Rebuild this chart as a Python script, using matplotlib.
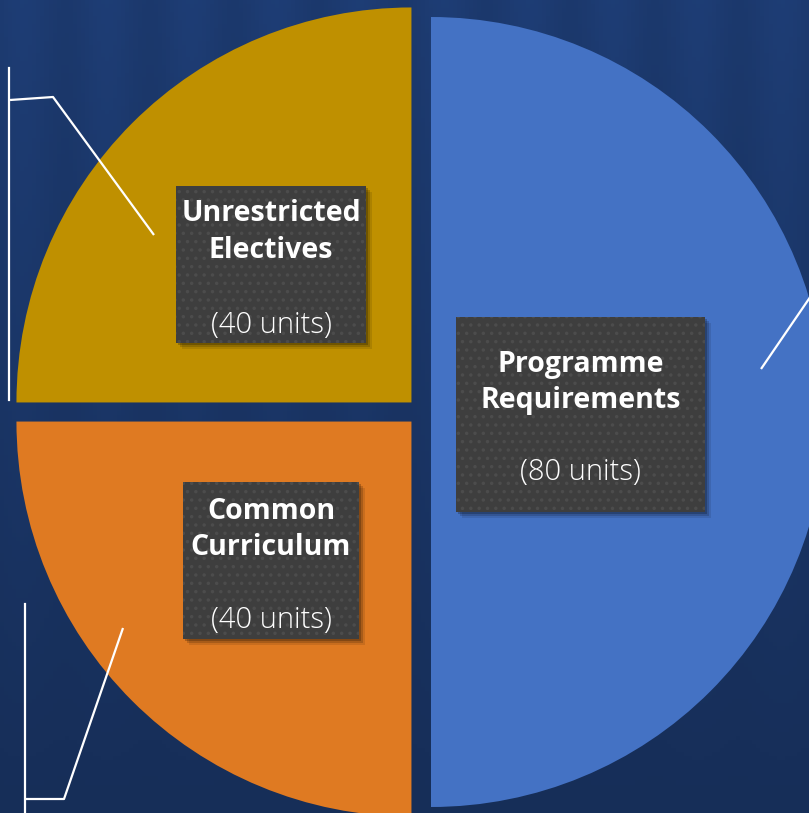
import numpy as np
import matplotlib
matplotlib.use('Agg')
import matplotlib.pyplot as plt
from matplotlib.patches import Rectangle

# chart data
categories = ['Programme\nRequirements', 'Unrestricted\nElectives', 'Common\nCurriculum']
units = [80, 40, 40]
colors = ['#4472C4', '#BF9000', '#DF7A22']

W, H = 809, 813
plt.rcParams['font.family'] = ['Open Sans', 'DejaVu Sans']
plt.rcParams['hatch.linewidth'] = 1.3

fig = plt.figure(figsize=(W / 100, H / 100), dpi=100)
ax = fig.add_axes([0, 0, 1, 1])


def py(y):
    # pixel row (top down) -> data y
    return H - y


# background: dark navy, a bit lighter at the top
yy = np.linspace(0, 1, 200)[:, None]
xx = np.linspace(0, 1, 200)[None, :]
shade = 0.64 + 0.18 * (1 - yy) + 0.03 * np.sin(xx * 60) * (1 - yy)
base = np.array([0.115, 0.235, 0.45])
img = np.clip(shade[..., None] * base[None, None, :] * 1.2, 0, 1)
ax.imshow(img, extent=[0, W, 0, H], aspect='auto', zorder=0)

# explode offsets are in data units (pixels) here, since radius is in pixels
wedges, _ = ax.pie(units, colors=colors, explode=[10, 13.5, 13.5], startangle=-90,
                   counterclock=True, radius=395, center=(421, py(412)),
                   wedgeprops=dict(linewidth=0), frame=True)
ax.set_xlim(0, W)
ax.set_ylim(0, H)
ax.axis('off')
for w in wedges:
    w.set_zorder(2)

# leader lines (decorative, as in the source slide)
leaders = [
    [(761, 369), (815, 290)],
    [(154, 235), (53, 97), (10, 100)],
    [(123, 628), (64, 799), (25, 799)],
]
for pts in leaders:
    xs = [p[0] for p in pts]
    ys = [py(p[1]) for p in pts]
    ax.plot(xs, ys, color='white', lw=1.6, zorder=3, solid_capstyle='butt')
ax.plot([9, 9], [py(68), py(400)], color='white', lw=1.6, zorder=3)
ax.plot([25, 25], [py(604), py(820)], color='white', lw=1.6, zorder=3)

# label boxes: (left, top, right, bottom), title centre row, units row
boxes = [(456, 317, 705, 512), (176, 186, 366, 343), (183, 482, 359, 639)]
title_rows = [382.5, 232, 529.5]
unit_rows = [472, 325, 620]
for (l, t, r, b), ty, uy, name, u in zip(boxes, title_rows, unit_rows, categories, units):
    for k, a in [(6, 0.10), (4, 0.16), (2, 0.22)]:
        ax.add_patch(Rectangle((l + k, py(b) - k), r - l, b - t,
                               facecolor='black', alpha=a, lw=0, zorder=4))
    ax.add_patch(Rectangle((l, py(b)), r - l, b - t, facecolor='#3e3e3e',
                           edgecolor='#4c4c4c', hatch='..', lw=0, zorder=5))
    cx = (l + r) / 2
    ax.text(cx, py(ty), name, ha='center', va='center', color='white',
            fontsize=20.5, fontweight='bold', linespacing=1.35, zorder=6)
    ax.text(cx, py(uy), f'({u} units)', ha='center', va='center',
            color='white', fontsize=21, fontweight='light', zorder=6)

fig.savefig('out.png', dpi=100)
